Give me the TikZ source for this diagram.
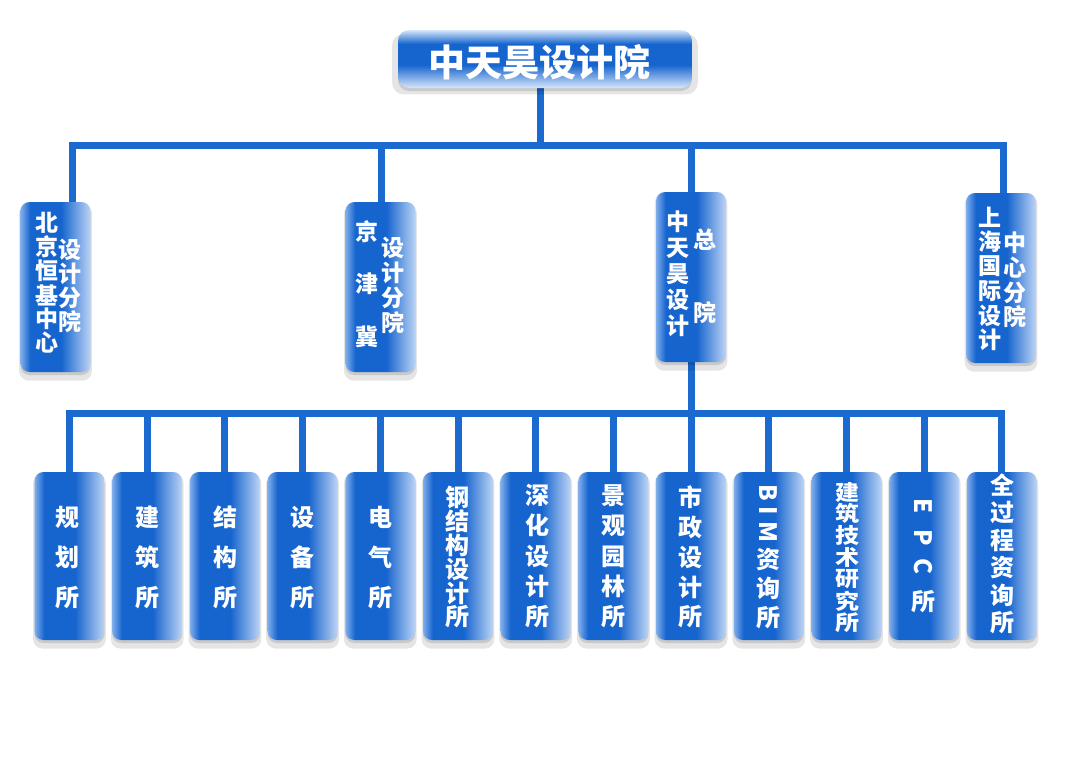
\documentclass[tikz,border=0pt]{standalone}
\usepackage{fontspec}
\setmainfont{Noto Sans CJK SC}
\usepackage{graphicx}
\usetikzlibrary{shadows}
\pgfdeclarelayer{background}
\pgfdeclarelayer{bottom}
\pgfsetlayers{bottom,background,main}
\definecolor{bmain}{RGB}{22,100,206}
\definecolor{blight}{RGB}{128,174,236}
\definecolor{blightb}{RGB}{188,212,245}
\definecolor{blightc}{RGB}{214,230,249}
\definecolor{linec}{RGB}{26,106,208}
\pgfdeclarehorizontalshading{boxh}{100bp}{color(0bp)=(blight); color(25bp)=(blight); color(32bp)=(bmain); color(54bp)=(bmain); color(75bp)=(blightb); color(100bp)=(blightb)}
\pgfdeclareverticalshading{topv}{100bp}{color(0bp)=(blightc); color(25bp)=(blightc); color(45bp)=(bmain); color(63bp)=(bmain); color(75bp)=(blightc); color(100bp)=(blightc)}
\newcommand\rotlat[1]{\rotatebox[origin=c]{-90}{#1}}
\newcommand\sqz[1]{\scalebox{1}[0.88]{#1}}
\newcommand\vcolumn[6]{\foreach \ch [count=\k from 0] in {#6} {\node[chr,#5] (#1-\k) at ({#2},{#3+#4*\k}) {\ch};}}
\tikzset{
  conn/.style={draw=linec, line width=7pt},
  boxbase/.style={shade, rounded corners=9pt, inner sep=0pt,
     general shadow={shadow xshift=0pt, shadow yshift=-5pt, shadow scale=1.04, opacity=0.10, fill=black},
     drop shadow={shadow xshift=0pt, shadow yshift=-3pt, opacity=0.12, fill=black}},
  lowbox/.style={boxbase, shading=boxh, minimum width=70pt, minimum height=168pt},
  midbox/.style={boxbase, shading=boxh, minimum width=70pt, minimum height=170pt},
  topbox/.style={boxbase, shading=topv, minimum width=294pt, minimum height=58pt, rounded corners=11pt},
  chr/.style={text=white, inner sep=0pt, anchor=center},
  bfont/.style={font=\bfseries\fontsize{24pt}{24pt}\selectfont},
  mfont/.style={font=\bfseries\fontsize{23pt}{23pt}\selectfont},
  tfont/.style={font=\bfseries\fontsize{37pt}{37pt}\selectfont},
}
\begin{document}
\begin{tikzpicture}[x=1pt,y=-1pt]
\begin{pgfonlayer}{bottom}
\fill[white] (0,0) rectangle (1080,764);
\end{pgfonlayer}
\useasboundingbox (0,0) rectangle (1080,764);

% top
\node[topbox] (top) at (545,59) {};
\node[chr,tfont] (title) at (539,62) {中天昊设计院};

% second level
\node[midbox] (s1) at (55.5,287) {};
\node[midbox] (s2) at (380.5,287) {};
\node[midbox] (s3) at (691,277) {};
\node[midbox] (s4) at (1001,278) {};

\vcolumn{s1a}{47}{223}{24}{mfont}{北,京,恒,基,中,心}
\vcolumn{s1b}{70}{249.5}{24.2}{mfont}{设,计,分,院}
\vcolumn{s2a}{367}{231.5}{52.5}{mfont}{京,津,冀}
\vcolumn{s2b}{393}{248}{25}{mfont}{设,计,分,院}
\vcolumn{s3a}{678}{222}{26}{mfont}{中,天,昊,设,计}
\vcolumn{s3b}{705}{240}{73}{mfont}{总,院}
\vcolumn{s4a}{990}{217}{24.6}{mfont}{上,海,国,际,设,计}
\vcolumn{s4b}{1015}{243}{24.7}{mfont}{中,心,分,院}

% bottom level
\foreach \i in {1,...,13} {
  \node[lowbox] (c\i) at ({69.5+77.7*(\i-1)},556) {};
}
\vcolumn{t1}{67}{517}{40.5}{bfont}{规,划,所}
\vcolumn{t2}{147}{517}{40.5}{bfont}{建,筑,所}
\vcolumn{t3}{225}{517}{40.5}{bfont}{结,构,所}
\vcolumn{t4}{302}{517}{40.5}{bfont}{设,备,所}
\vcolumn{t5}{380}{517}{40.5}{bfont}{电,气,所}
\vcolumn{t6}{457}{497}{24}{bfont}{钢,结,构,设,计,所}
\vcolumn{t7}{537}{495}{30.5}{bfont}{深,化,设,计,所}
\vcolumn{t8}{613}{496}{30.2}{bfont}{景,观,园,林,所}
\vcolumn{t9}{690}{497}{30}{bfont}{市,政,设,计,所}
\foreach \yy/\ch [count=\k] in {493/{\rotlat{B}},513/{\rotlat{I}},532/{\rotlat{M}},560/资,588/询,618/所}
  {\node[chr,bfont] (t10-\k) at (768,\yy) {\ch};}
\vcolumn{t11}{847}{492}{21.8}{bfont}{\sqz{建},\sqz{筑},\sqz{技},\sqz{术},\sqz{研},\sqz{究},\sqz{所}}
\foreach \yy/\ch [count=\k] in {507/{\rotlat{E}},538/{\rotlat{P}},567/{\rotlat{C}},602/所}
  {\node[chr,bfont] (t12-\k) at (923,\yy) {\ch};}
\vcolumn{t13}{1002}{485}{27.6}{bfont}{全,过,程,资,询,所}

% connectors
\coordinate (j0) at (540,145);
\coordinate (k1) at (72,145);
\coordinate (k2) at (381,145);
\coordinate (k3) at (691,145);
\coordinate (k4) at (1003,145);
\coordinate (bus) at (691,413);
\begin{pgfonlayer}{background}
\draw[conn] (j0 |- top.south) -- (j0);
\draw[conn] (k1 |- s1.north) -- (k1) -- (k4) -- (k4 |- s4.north);
\draw[conn] (k2) -- (k2 |- s2.north);
\draw[conn] (k3) -- (k3 |- s3.north);
\draw[conn] (s3.south) -- (s3.south |- bus);
\draw[conn] (c1.north) -- (c1.north |- bus) -- (c13.north |- bus) -- (c13.north);
\foreach \i in {2,...,12} {\draw[conn] (c\i.north |- bus) -- (c\i.north);}
\end{pgfonlayer}
\end{tikzpicture}
\end{document}
